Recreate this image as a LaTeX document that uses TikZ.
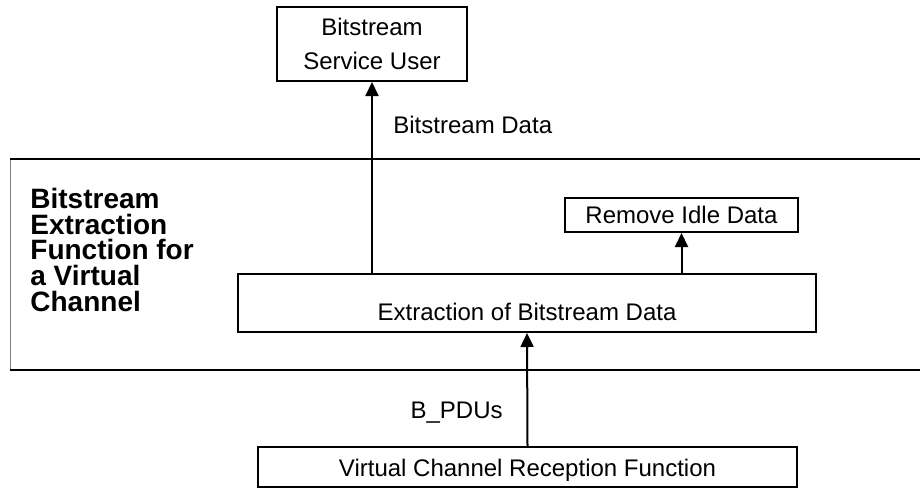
\documentclass[tikz,border=0pt]{standalone}
\usepackage{fontspec}
\setmainfont{Liberation Sans}
\usetikzlibrary{arrows.meta}

\begin{document}
\begin{tikzpicture}[x=0.5pt,y=-0.5pt]

\tikzstyle{block} = [
	draw, line width=1pt, rectangle, inner sep=0pt,
	font=\fontsize{12}{17}\selectfont ];
\tikzstyle{plain} = [draw=none, fill=none, inner sep=0pt,
	font=\fontsize{12}{17}\selectfont];
\tikzstyle{flow} = [line width=1pt, -{Triangle[width=6.5pt,length=7pt]}];
\useasboundingbox (0,0) rectangle (920,489);

% layer band
\draw[gray, line width=0.5pt] (10,159) -- (10,370);
\draw[line width=1.2pt] (10,159) -- (920,159);
\draw[line width=1.4pt] (10,370) -- (920,370);

\node[plain, anchor=north west, align=left,
	font=\fontsize{14}{12.8}\selectfont\bfseries] (title) at (30,188)
	{Bitstream\\Extraction\\Function for\\a Virtual\\Channel};

\node[block, align=center, minimum width=95pt, minimum height=37pt] (usr) at (372,44)
	{Bitstream\\Service User};
\node[block, minimum width=289pt, minimum height=29pt,
	text height=17pt, text depth=0pt] (ext) at (527,303) {Extraction of Bitstream Data};
\node[block, minimum width=116.5pt, minimum height=17pt,
	text height=8.6pt, text depth=0pt] (idle) at (681.5,215) {Remove Idle Data};
\node[block, minimum width=269.5pt, minimum height=20pt,
	text height=9pt, text depth=0pt] (vcr) at (527.5,467) {Virtual Channel Reception Function};

\node[plain, anchor=base west] (bdata) at (393,133) {Bitstream Data};
\node[plain, anchor=base east] (bpdu) at (503,418) {B\_PDUs};

\draw[flow] (ext.north -| usr) -- (usr.south);
\draw[flow] (ext.north -| idle) -- (idle.south);
\draw[flow] (vcr.north) -- (ext.south);

\end{tikzpicture}
\end{document}
